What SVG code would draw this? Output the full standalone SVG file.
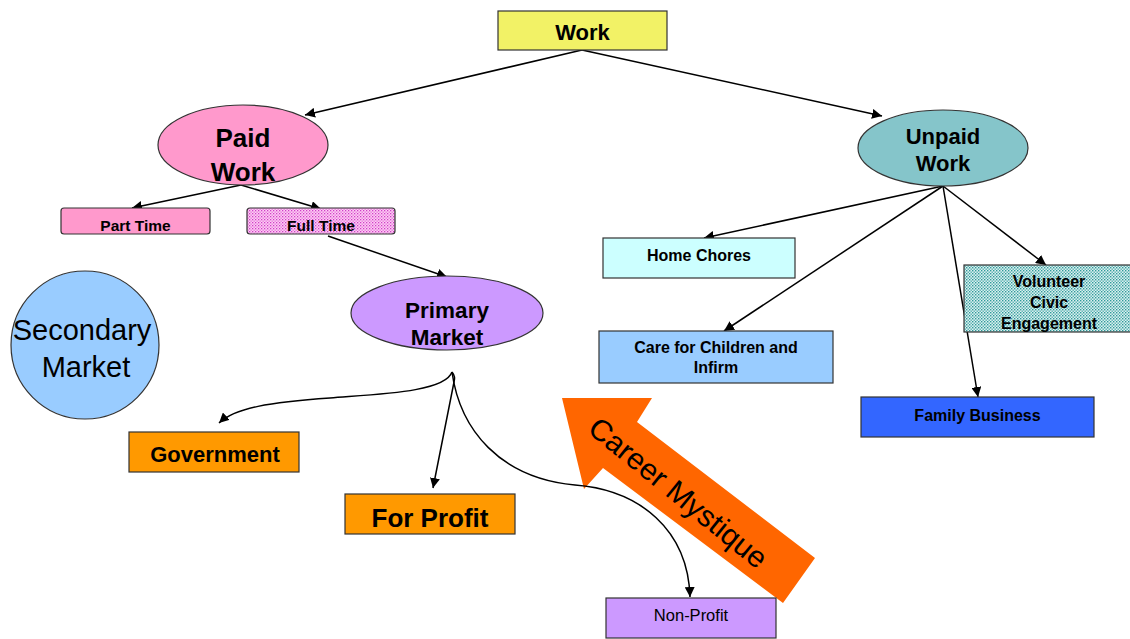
<svg xmlns="http://www.w3.org/2000/svg" width="1130" height="639" viewBox="0 0 1130 639">
<style>
.box{stroke:#333;stroke-width:1.2}
.b{font-family:"Liberation Sans",Arial,sans-serif;font-weight:bold;text-anchor:middle;fill:#000}
.r{font-family:"Liberation Sans",Arial,sans-serif;text-anchor:middle;fill:#000}
.c{fill:none;stroke:#000;stroke-width:1.5}
</style>
<defs>
<marker id="ah" viewBox="0 0 10 10" refX="10" refY="5" markerWidth="10" markerHeight="10" markerUnits="userSpaceOnUse" orient="auto">
<path d="M0,0 L10,5 L0,10 z" fill="#000"/>
</marker>
<pattern id="pinkdots" width="3" height="3" patternUnits="userSpaceOnUse">
<rect width="3" height="3" fill="#FFCCF4"/>
<rect x="0" y="0" width="1.3" height="1.3" fill="#D040C8"/>
<rect x="1.5" y="1.5" width="1.3" height="1.3" fill="#E070D8"/>
</pattern>
<pattern id="tealdots" width="3" height="3" patternUnits="userSpaceOnUse">
<rect width="3" height="3" fill="#DDF0F0"/>
<rect x="0" y="0" width="1.4" height="1.4" fill="#2E9A9A"/>
<rect x="1.5" y="1.5" width="1.4" height="1.4" fill="#50AEAE"/>
</pattern>
</defs>

<g id="connectors">
<line class="c" x1="582" y1="50" x2="305" y2="115" marker-end="url(#ah)"/>
<line class="c" x1="582" y1="50" x2="882" y2="116" marker-end="url(#ah)"/>
<line class="c" x1="241" y1="185" x2="132" y2="208" marker-end="url(#ah)"/>
<line class="c" x1="241" y1="185" x2="321" y2="209" marker-end="url(#ah)"/>
<line class="c" x1="328" y1="236" x2="447" y2="277" marker-end="url(#ah)"/>
<line class="c" x1="943" y1="186" x2="704" y2="238" marker-end="url(#ah)"/>
<line class="c" x1="943" y1="186" x2="724" y2="331" marker-end="url(#ah)"/>
<line class="c" x1="943" y1="186" x2="1046" y2="265" marker-end="url(#ah)"/>
<line class="c" x1="943" y1="186" x2="978" y2="397" marker-end="url(#ah)"/>
<path class="c" d="M452,372 C445,392 380,394 330,398 C270,402 235,408 219,423" marker-end="url(#ah)"/>
<path class="c" d="M452,372 C455,376 455,378 454,382 L433,488" marker-end="url(#ah)"/>
</g>

<g id="career-mystique">
<polygon points="562,398 652,398 637,422 815,558 783,603 603,468 584,489" fill="#FF6600"/>
<text class="r" x="0" y="0" font-size="30" transform="translate(678,493) rotate(39)" dy="10">Career Mystique</text>
</g>

<g id="connector-nonprofit">
<path class="c" d="M452,372 C460,430 500,478 575,485 C640,490 688,530 690,597" marker-end="url(#ah)"/>
</g>

<g id="work">
<rect class="box" x="498" y="11" width="169" height="39" fill="#F2F266"/>
<text class="b" x="582.5" y="40" font-size="22">Work</text>
</g>

<g id="paid-work">
<ellipse class="box" cx="243" cy="145" rx="85" ry="40" fill="#FF99CC"/>
<text class="b" x="243" y="147" font-size="26">Paid</text>
<text class="b" x="243" y="181" font-size="26">Work</text>
</g>

<g id="unpaid-work">
<ellipse class="box" cx="943" cy="148" rx="85" ry="38" fill="#85C5CA"/>
<text class="b" x="943" y="144" font-size="22">Unpaid</text>
<text class="b" x="943" y="171" font-size="22">Work</text>
</g>

<g id="part-time">
<rect class="box" x="61" y="208" width="149" height="26" rx="3" fill="#FF99CC"/>
<text class="b" x="135.5" y="231" font-size="15.5">Part Time</text>
</g>

<g id="full-time">
<rect class="box" x="247" y="208" width="148" height="26" rx="3" fill="url(#pinkdots)"/>
<text class="b" x="321" y="231" font-size="15.5">Full Time</text>
</g>

<g id="secondary-market">
<circle class="box" cx="85" cy="345" r="74" fill="#99CCFF"/>
<text class="r" x="82" y="340" font-size="29">Secondary</text>
<text class="r" x="86" y="377" font-size="29">Market</text>
</g>

<g id="primary-market">
<ellipse class="box" cx="447" cy="313" rx="96" ry="37" fill="#CC99FF"/>
<text class="b" x="447" y="318" font-size="22.5">Primary</text>
<text class="b" x="447" y="345" font-size="22.5">Market</text>
</g>

<g id="government">
<rect class="box" x="129" y="432" width="170" height="40" fill="#FF9900"/>
<text class="b" x="215" y="462" font-size="22">Government</text>
</g>

<g id="for-profit">
<rect class="box" x="345" y="494" width="170" height="40" fill="#FF9900"/>
<text class="b" x="430" y="527" font-size="26">For Profit</text>
</g>

<g id="non-profit">
<rect class="box" x="606" y="598" width="170" height="40" fill="#CC99FF"/>
<text class="r" x="691" y="621" font-size="16.5">Non-Profit</text>
</g>

<g id="home-chores">
<rect class="box" x="603" y="238" width="192" height="40" fill="#CCFFFF"/>
<text class="b" x="699" y="261" font-size="16">Home Chores</text>
</g>

<g id="care">
<rect class="box" x="599" y="331" width="234" height="52" fill="#99CCFF"/>
<text class="b" x="716" y="353" font-size="16">Care for Children and</text>
<text class="b" x="716" y="373" font-size="16">Infirm</text>
</g>

<g id="volunteer">
<rect class="box" x="964" y="265" width="170" height="67" fill="url(#tealdots)"/>
<text class="b" x="1049" y="287" font-size="16">Volunteer</text>
<text class="b" x="1049" y="308" font-size="16">Civic</text>
<text class="b" x="1049" y="329" font-size="16">Engagement</text>
</g>

<g id="family-business">
<rect class="box" x="861" y="397" width="233" height="40" fill="#3366FF"/>
<text class="b" x="977.5" y="421" font-size="16">Family Business</text>
</g>
</svg>
